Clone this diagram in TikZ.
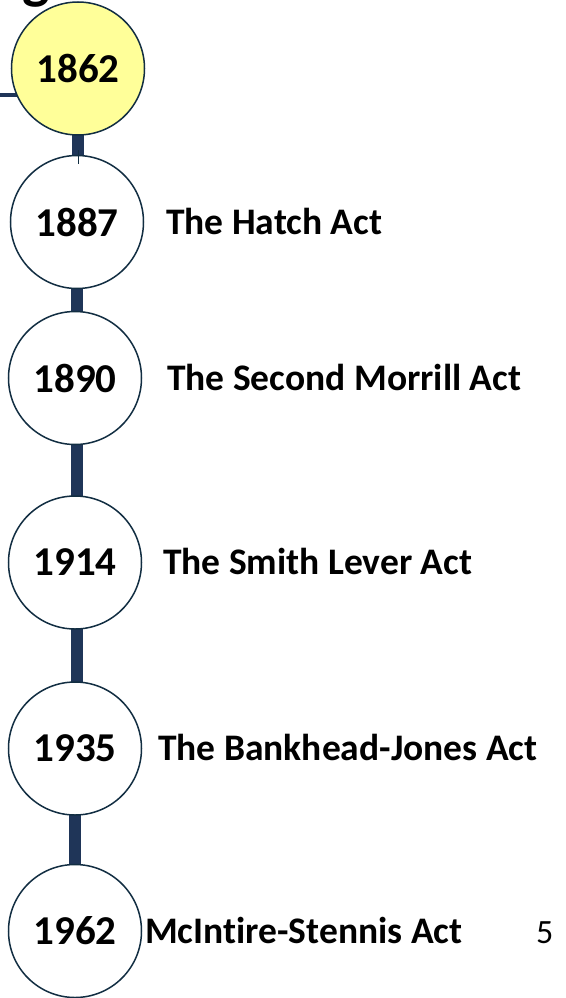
\documentclass[tikz,border=0pt]{standalone}
\usepackage{fontspec}
\setmainfont{Carlito}[Ligatures=NoCommon]
\definecolor{navybar}{RGB}{31,53,88}
\definecolor{ringcol}{RGB}{18,46,66}
\definecolor{paleyellow}{RGB}{255,255,153}
\tikzset{
  yearnode/.style={circle, draw=ringcol, line width=1.5pt, fill=white, minimum size=133pt, inner sep=0pt, font=\fontsize{41}{45}\selectfont\bfseries},
  actlabel/.style={anchor=base west, inner sep=0pt, font=\fontsize{37.5}{42}\selectfont\bfseries},
  barline/.style={draw=navybar, line width=12pt},
}
\begin{document}
\begin{tikzpicture}[x=1pt,y=-1pt]
\useasboundingbox (0,0) rectangle (565,998);
\fill[white] (0,0) rectangle (565,998);
% cut-off title fragment
\node[anchor=base west, inner sep=0pt, font=\fontsize{58}{60}\selectfont\bfseries] (titlefrag) at (22,-2) {g};
% left horizontal stub
\coordinate (stubL) at (0,95);
\coordinate (stubR) at (21,95);
\draw[draw=navybar, line width=4pt] (stubL) -- (stubR);
% connectors (behind circles)
\coordinate (b1t) at (77.5,130); \coordinate (b1b) at (77.5,160);
\coordinate (b2t) at (77,285); \coordinate (b2b) at (77,315);
\coordinate (b3t) at (77,440); \coordinate (b3b) at (77,500);
\coordinate (b4t) at (76.5,625); \coordinate (b4b) at (76.5,686);
\coordinate (b5t) at (75,810); \coordinate (b5b) at (75,870);
\draw[barline] (b1t) -- (b1b);
\draw[barline] (b2t) -- (b2b);
\draw[barline] (b3t) -- (b3b);
\draw[barline] (b4t) -- (b4b);
\draw[barline] (b5t) -- (b5b);
% circles
\node[yearnode, fill=paleyellow] (y1862) at (78,68.5) {1862};
\node[yearnode] (y1887) at (77,222) {1887};
\node[yearnode] (y1890) at (75,378) {1890};
\node[yearnode] (y1914) at (75,562.5) {1914};
\node[yearnode] (y1935) at (75,748.5) {1935};
\node[yearnode] (y1962) at (75,931) {1962};
% thin tick into 1887
\coordinate (tickA) at (78,150);
\coordinate (tickB) at (78,164);
\draw[ringcol, line width=0.6pt] (tickA) -- (tickB);
% labels
\node[actlabel] (l1887) at (166,234) {The Hatch Act};
\node[actlabel] (l1890) at (167,390) {The Second Morrill Act};
\node[actlabel] (l1914) at (163,574.5) {The Smith Lever Act};
\node[actlabel] (l1935) at (158,760.5) {The Bankhead-Jones Act};
\node[actlabel] (l1962) at (145,943) {McIntire-Stennis Act};
\node[anchor=base west, inner sep=0pt, font=\fontsize{34}{38}\selectfont] (pagenum) at (536,943) {5};
\end{tikzpicture}
\end{document}
